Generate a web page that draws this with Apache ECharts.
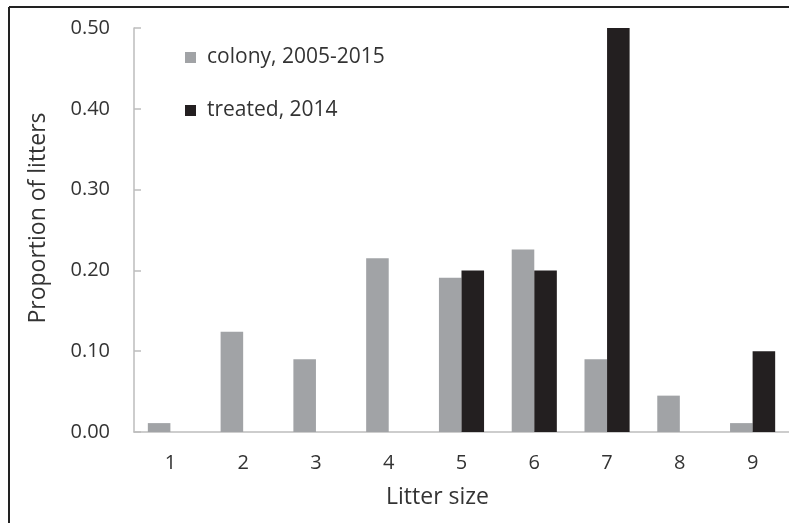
<!DOCTYPE html>
<html>
<head>
<meta charset="utf-8">
<script src="https://cdn.jsdelivr.net/npm/echarts@6/dist/echarts.min.js"></script>
<style>
html,body{margin:0;padding:0;background:#fff;}
#chart{width:789px;height:523px;}
</style>
</head>
<body>
<div id="chart"></div>
<script>
const categories = ['1','2','3','4','5','6','7','8','9'];
const colonyValues = [0.011, 0.124, 0.090, 0.215, 0.191, 0.226, 0.090, 0.045, 0.011];
const treatedValues = [0, 0, 0, 0, 0.200, 0.200, 0.500, 0, 0.100];
const seriesNames = ['colony, 2005-2015', 'treated, 2014'];
const yAxisTitle = 'Proportion of litters';
const xAxisTitle = 'Litter size';

const FONT = 'Open Sans';
const chart = echarts.init(document.getElementById('chart'));
chart.setOption({
  animation: false,
  backgroundColor: '#fff',
  textStyle: {fontFamily: FONT},
  graphic: [
    {type: 'line', shape: {x1: 9, y1: 7, x2: 789, y2: 7}, style: {stroke: '#222', lineWidth: 2}},
    {type: 'line', shape: {x1: 9, y1: 7, x2: 9, y2: 523}, style: {stroke: '#222', lineWidth: 2}}
  ],
  legend: {
    orient: 'vertical',
    left: 185,
    top: 47,
    padding: 0,
    itemWidth: 11,
    itemHeight: 11,
    itemGap: 32,
    icon: 'rect',
    textStyle: {fontFamily: FONT, fontSize: 21, color: '#333', padding: [0,0,0,6]},
    data: seriesNames
  },
  grid: {left: 134, top: 28, width: 664, height: 404, containLabel: false},
  xAxis: {
    type: 'category',
    data: categories,
    name: xAxisTitle,
    nameLocation: 'middle',
    nameGap: 54,
    nameTextStyle: {fontFamily: FONT, fontSize: 23, color: '#333', padding: [0, 48, 0, 0]},
    axisLine: {lineStyle: {color: '#bdbdbd', width: 1.5}},
    axisTick: {inside: true, length: 8, lineStyle: {color: '#bdbdbd', width: 1.5}},
    axisLabel: {fontFamily: FONT, fontSize: 20, color: '#333', margin: 21}
  },
  yAxis: {
    type: 'value',
    min: 0,
    max: 0.5,
    interval: 0.1,
    name: yAxisTitle,
    nameLocation: 'middle',
    nameGap: 84,
    nameTextStyle: {fontFamily: FONT, fontSize: 23, color: '#333', padding: [0, 0, 0, 24]},
    axisLine: {show: true, lineStyle: {color: '#bdbdbd', width: 1.5}},
    axisTick: {show: true, inside: true, length: 7, lineStyle: {color: '#bdbdbd', width: 1.5}},
    splitLine: {show: false},
    axisLabel: {fontFamily: FONT, fontSize: 20, color: '#333', margin: 24,
      formatter: v => v.toFixed(2)}
  },
  series: [
    {name: seriesNames[0], type: 'bar', data: colonyValues, barGap: '0%', barCategoryGap: '38%',
     itemStyle: {color: '#a1a3a6'}},
    {name: seriesNames[1], type: 'bar', data: treatedValues, barGap: '0%', barCategoryGap: '38%',
     itemStyle: {color: '#231f20'}}
  ]
});
</script>
</body>
</html>
